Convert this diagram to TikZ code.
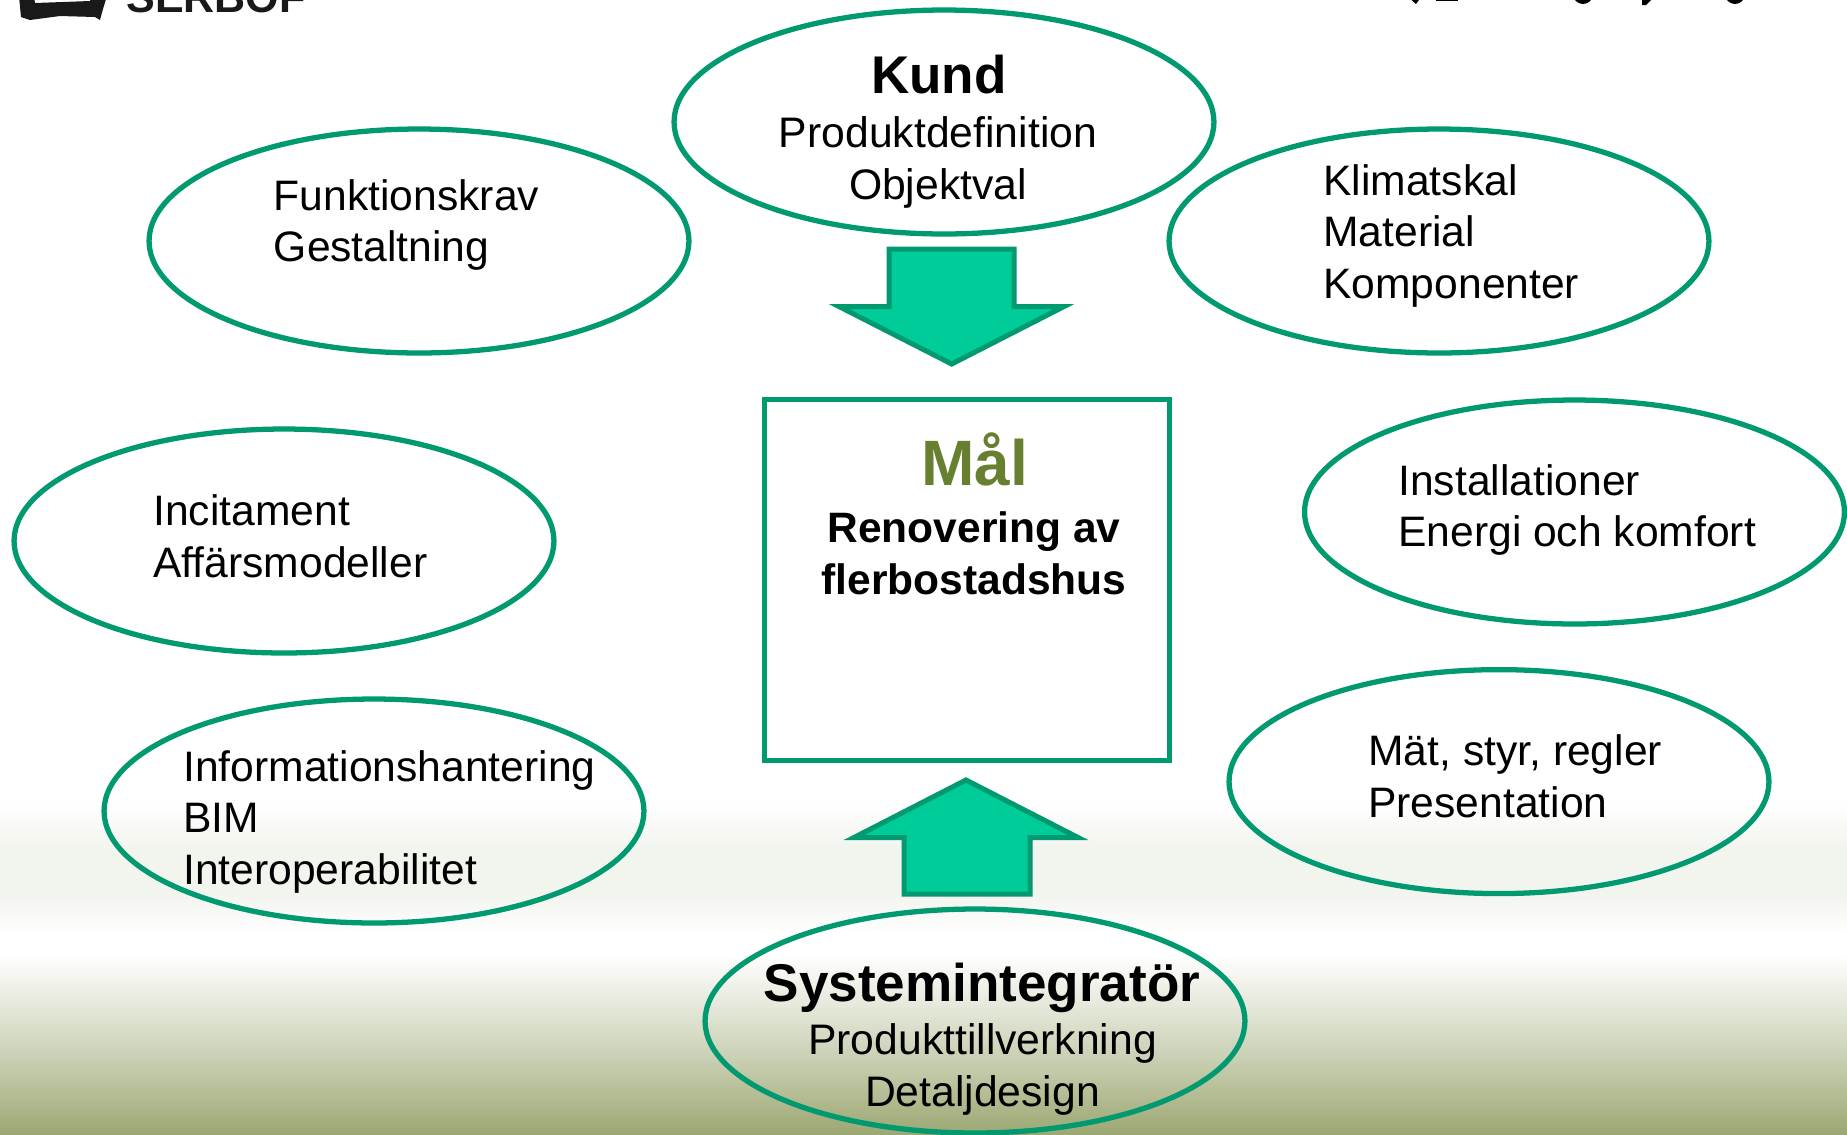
\documentclass[tikz,border=0pt]{standalone}
\usepackage{fontspec}
\setmainfont{Liberation Sans}
\usetikzlibrary{shapes.geometric}
\definecolor{rim}{HTML}{009970}
\definecolor{arrowfill}{HTML}{00CC99}
\definecolor{olive}{HTML}{9CA873}
\definecolor{haze}{HTML}{F2F4EE}
\definecolor{maltext}{HTML}{668030}
\tikzset{
  x=0.02cm,y=-0.02cm,
  oval/.style={draw=rim,line width=3pt,ellipse,inner sep=0pt,minimum width=10.8cm,minimum height=4.48cm},
  goal/.style={draw=rim,line width=2.85pt},
  block/.style={draw=rim,fill=arrowfill,line width=2.85pt,miter limit=20},
  body/.style={inner sep=0pt,align=left,font=\fontsize{24.25pt}{29.1pt}\selectfont},
  bodyc/.style={inner sep=0pt,align=center,font=\fontsize{24.3pt}{29.1pt}\selectfont},
  head/.style={inner sep=0pt,font=\fontsize{30.2pt}{36pt}\selectfont\bfseries},
}
\begin{document}
\begin{tikzpicture}
\useasboundingbox (0,0) rectangle (1847,1134);
% background bands
\fill[white] (0,0) rectangle (1847,1134);
\shade[top color=white,bottom color=haze,shading angle=0] (0,803) rectangle (1847,850);
\fill[haze] (0,849.5) rectangle (1847,893);
\shade[top color=haze,bottom color=white] (0,892.5) rectangle (1847,935);
\shade[top color=white,bottom color=olive!55!white] (0,955) rectangle (1847,1060);
\shade[top color=olive!55!white,bottom color=olive] (0,1059.5) rectangle (1847,1134);
% clipped logo and heading fragments at the top edge
\begin{scope}
\clip (0,0) rectangle (1847,30);
\fill[black!90] (19,-4) -- (34,-4) -- (35,3) -- (90,1) -- (92,-4) -- (107,-4) -- (103,9) -- (100,20) -- (95,17) -- (60,16) -- (30,20) -- (21,17) -- cycle;
\node[anchor=base west,inner sep=0pt,text=black!90,font=\fontsize{24.5pt}{30pt}\selectfont\bfseries] (logotext) at (126,12) {SERBOF};
\fill[black] (1407,-4) -- (1422,-4) -- (1416,4) -- cycle;
\fill[black] (1436,-3) rectangle (1458,1);
\fill[black] (1583,-6) ellipse (10 and 10);
\fill[black] (1642,-3) -- (1654,-3) -- (1646,5) -- (1642,5) -- cycle;
\fill[black] (1735,-6) ellipse (10 and 10);
\end{scope}
% ovals
\node[oval] (kund) at (944,122) {};
\node[oval] (funk) at (419,241) {};
\node[oval] (klim) at (1439,241) {};
\node[oval] (inci) at (284,541) {};
\node[oval] (inst) at (1574.5,512) {};
\node[oval] (info) at (374,811) {};
\node[oval] (matt) at (1499,781.6) {};
\node[oval] (syst) at (975,1021) {};
% goal box
\draw[goal] (764.5,399) rectangle (1169,760);
% arrows
\draw[block] (889,249) -- (1014,249) -- (1014,306.5) -- (1064,306.5) -- (951.7,364) -- (839,306.5) -- (889,306.5) -- cycle;
\draw[block] (904,894) -- (1030,894) -- (1030,837.5) -- (1078,837.5) -- (966,780) -- (854,837.5) -- (904,837.5) -- cycle;
% texts
\node[head,anchor=base] (t1) at (939,93) {Kund};
\node[bodyc,anchor=base] (t2) at (938,199) {Produktdefinition\\Objektval};
\node[body,anchor=base west] (t3) at (273.5,261.5) {Funktionskrav\\Gestaltning};
\node[body,anchor=base west] (t4) at (1323,298) {Klimatskal\\Material\\Komponenter};
\node[body,anchor=base west] (t5) at (153,577) {Incitament\\Affärsmodeller};
\node[body,anchor=base west] (t6) at (1398,546.5) {Installationer\\Energi och komfort};
\node[body,anchor=base west] (t7) at (183,884) {Informationshantering\\BIM\\Interoperabilitet};
\node[body,anchor=base west] (t8) at (1368,817) {Mät, styr, regler\\Presentation};
\node[head,anchor=base] (t9) at (982,1001) {Systemintegratör};
\node[bodyc,anchor=base] (t10) at (982.5,1106) {Produkttillverkning\\Detaljdesign};
\node[inner sep=0pt,anchor=base,text=maltext,font=\fontsize{36.5pt}{42pt}\selectfont\bfseries] (t11) at (974.5,485) {Mål};
\node[inner sep=0pt,align=center,anchor=base,font=\fontsize{24.2pt}{29.1pt}\selectfont\bfseries] (t12) at (974,594) {Renovering av\\flerbostadshus};
\end{tikzpicture}
\end{document}
